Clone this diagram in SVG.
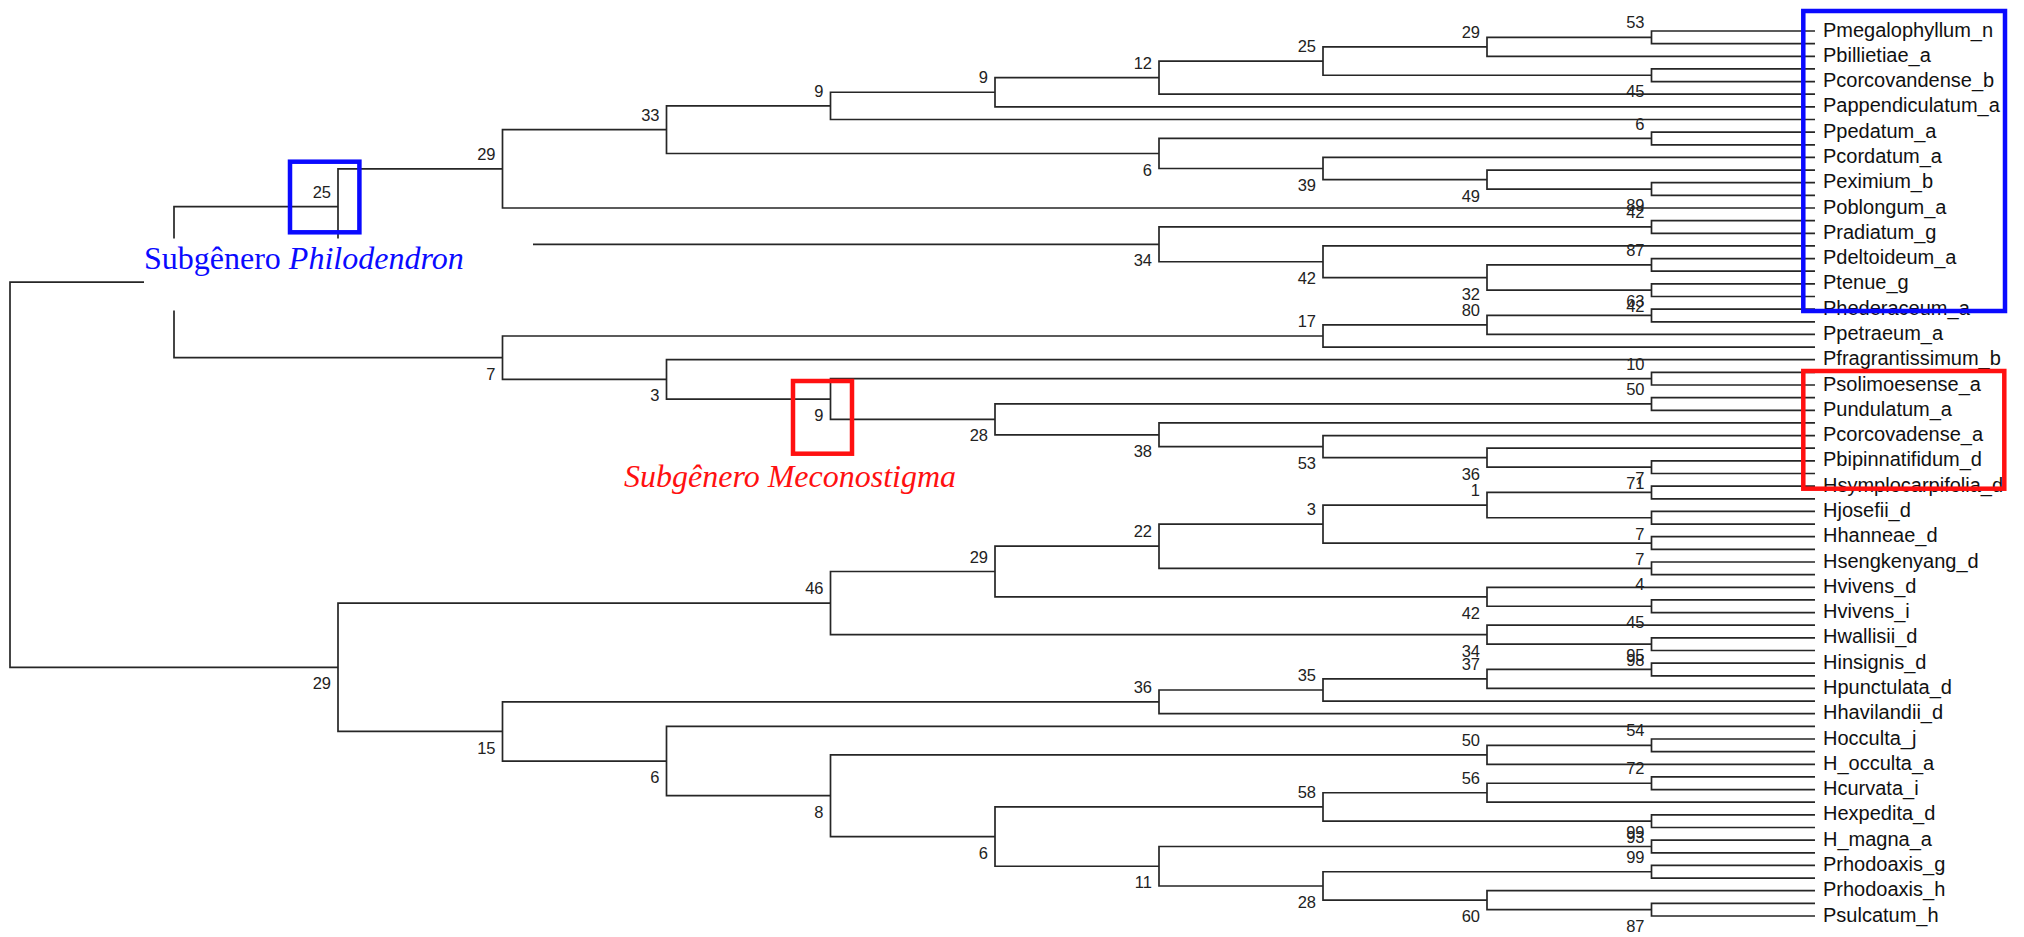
<svg xmlns="http://www.w3.org/2000/svg" width="2024" height="937" viewBox="0 0 2024 937">
  <style>
    .br { fill: none; stroke: #262626; stroke-width: 1.7; }
    .sv { font-family: "Liberation Sans", Arial, sans-serif; font-size: 16.5px; fill: #222; text-anchor: end; }
    .tx { font-family: "Liberation Sans", Arial, sans-serif; font-size: 20px; fill: #111; }
    .box-b { fill: none; stroke: #0a0aff; stroke-width: 4.5; }
    .box-r { fill: none; stroke: #ff1010; stroke-width: 4.5; }
    .sub { font-family: "Liberation Serif", "Times New Roman", serif; font-size: 32px; }
  </style>
  <rect width="2024" height="937" fill="#ffffff"/>

  <!-- branches: one bracket per internal node (child1 -> node level -> child2) -->
  <g id="connectors" class="br">
    <path id="e-A" d="M1815 31 H1651.5 V43.64 H1815"/>
    <path id="e-B" d="M1651.5 37.32 H1487 V56.29 H1815"/>
    <path id="e-C" d="M1815 68.93 H1651.5 V81.57 H1815"/>
    <path id="e-D" d="M1487 46.8 H1323 V75.25 H1651.5"/>
    <path id="e-E" d="M1323 61.03 H1159 V94.22 H1815"/>
    <path id="e-F" d="M1159 77.62 H995 V106.86 H1815"/>
    <path id="e-G" d="M995 92.24 H830.5 V119.5 H1815"/>
    <path id="e-J" d="M1815 132.14 H1651.5 V144.79 H1815"/>
    <path id="e-M" d="M1815 182.72 H1651.5 V195.36 H1815"/>
    <path id="e-L" d="M1815 170.07 H1487 V189.04 H1651.5"/>
    <path id="e-K" d="M1815 157.43 H1323 V179.55 H1487"/>
    <path id="e-I" d="M1651.5 138.47 H1159 V168.49 H1323"/>
    <path id="e-H" d="M830.5 105.87 H666.5 V153.48 H1159"/>
    <path id="e-O" d="M666.5 129.67 H502.5 V208 H1815"/>
    <path id="e-N" d="M1815 220.65 H1651.5 V233.29 H1815"/>
    <path id="e-W" d="M1815 258.57 H1651.5 V271.22 H1815"/>
    <path id="e-X" d="M1815 283.86 H1651.5 V296.5 H1815"/>
    <path id="e-V" d="M1651.5 264.9 H1487 V290.18 H1651.5"/>
    <path id="e-U" d="M1815 245.93 H1323 V277.54 H1487"/>
    <path id="e-Q" d="M1651.5 226.97 H1159 V261.73 H1323"/>
    <path id="e-P" d="M502.5 168.84 H338 V244.35 H1159"/>
    <path id="e-Y" d="M1815 309.15 H1651.5 V321.79 H1815"/>
    <path id="e-Z" d="M1651.5 315.47 H1487 V334.43 H1815"/>
    <path id="e-AA" d="M1487 324.95 H1323 V347.08 H1815"/>
    <path id="e-AD" d="M1815 372.36 H1651.5 V385 H1815"/>
    <path id="e-AF" d="M1815 397.65 H1651.5 V410.29 H1815"/>
    <path id="e-AJ" d="M1815 460.86 H1651.5 V473.51 H1815"/>
    <path id="e-AI" d="M1815 448.22 H1487 V467.18 H1651.5"/>
    <path id="e-AH" d="M1815 435.58 H1323 V457.7 H1487"/>
    <path id="e-AG" d="M1815 422.93 H1159 V446.64 H1323"/>
    <path id="e-AE" d="M1651.5 403.97 H995 V434.79 H1159"/>
    <path id="e-AC" d="M1651.5 378.68 H830.5 V419.38 H995"/>
    <path id="e-AB" d="M1815 359.72 H666.5 V399.03 H830.5"/>
    <path id="e-R" d="M1323 336.01 H502.5 V379.37 H666.5"/>
    <path id="e-S" d="M338 206.59 H174 V357.69 H502.5"/>
    <path id="e-AK" d="M1815 486.15 H1651.5 V498.79 H1815"/>
    <path id="e-AM" d="M1815 511.43 H1651.5 V524.08 H1815"/>
    <path id="e-AL" d="M1651.5 492.47 H1487 V517.76 H1651.5"/>
    <path id="e-AP" d="M1815 536.72 H1651.5 V549.36 H1815"/>
    <path id="e-AO" d="M1487 505.11 H1323 V543.04 H1651.5"/>
    <path id="e-AR" d="M1815 562.01 H1651.5 V574.65 H1815"/>
    <path id="e-AQ" d="M1323 524.08 H1159 V568.33 H1651.5"/>
    <path id="e-AT" d="M1815 599.94 H1651.5 V612.58 H1815"/>
    <path id="e-AS" d="M1815 587.29 H1487 V606.26 H1651.5"/>
    <path id="e-AU" d="M1159 546.2 H995 V596.78 H1487"/>
    <path id="e-AX" d="M1815 637.86 H1651.5 V650.51 H1815"/>
    <path id="e-AW" d="M1815 625.22 H1487 V644.19 H1651.5"/>
    <path id="e-AV" d="M995 571.49 H830.5 V634.7 H1487"/>
    <path id="e-AY" d="M1815 663.15 H1651.5 V675.79 H1815"/>
    <path id="e-AZ" d="M1651.5 669.47 H1487 V688.44 H1815"/>
    <path id="e-BA" d="M1487 678.95 H1323 V701.08 H1815"/>
    <path id="e-BB" d="M1323 690.02 H1159 V713.72 H1815"/>
    <path id="e-BG" d="M1815 739.01 H1651.5 V751.65 H1815"/>
    <path id="e-BF" d="M1651.5 745.33 H1487 V764.29 H1815"/>
    <path id="e-BK" d="M1815 776.94 H1651.5 V789.58 H1815"/>
    <path id="e-BJ" d="M1651.5 783.26 H1487 V802.22 H1815"/>
    <path id="e-BL" d="M1815 814.87 H1651.5 V827.51 H1815"/>
    <path id="e-BI" d="M1487 792.74 H1323 V821.19 H1651.5"/>
    <path id="e-BM" d="M1815 840.15 H1651.5 V852.8 H1815"/>
    <path id="e-BP" d="M1815 865.44 H1651.5 V878.08 H1815"/>
    <path id="e-BR" d="M1815 903.37 H1651.5 V916.01 H1815"/>
    <path id="e-BQ" d="M1815 890.72 H1487 V909.69 H1651.5"/>
    <path id="e-BO" d="M1651.5 871.76 H1323 V900.21 H1487"/>
    <path id="e-BN" d="M1651.5 846.48 H1159 V885.99 H1323"/>
    <path id="e-BH" d="M1323 806.97 H995 V866.23 H1159"/>
    <path id="e-BE" d="M1487 754.81 H830.5 V836.6 H995"/>
    <path id="e-BD" d="M1815 726.37 H666.5 V795.71 H830.5"/>
    <path id="e-BC" d="M1159 701.87 H502.5 V761.04 H666.5"/>
    <path id="e-T" d="M830.5 603.1 H338 V731.45 H502.5"/>
    <path id="e-root" d="M174 282.14 H10 V667.28 H338"/>
  </g>

  <!-- support values at internal nodes -->
  <g id="support" class="sv">
    <g id="n-A"><text x="1644.5" y="28.3">53</text></g>
    <g id="n-B"><text x="1480" y="37.8">29</text></g>
    <g id="n-C"><text x="1644.5" y="97.3">45</text></g>
    <g id="n-D"><text x="1316" y="52">25</text></g>
    <g id="n-E"><text x="1152" y="68.6">12</text></g>
    <g id="n-F"><text x="988" y="83.2">9</text></g>
    <g id="n-G"><text x="823.5" y="96.9">9</text></g>
    <g id="n-H"><text x="659.5" y="120.7">33</text></g>
    <g id="n-I"><text x="1152" y="175.5">6</text></g>
    <g id="n-J"><text x="1644.5" y="129.5">6</text></g>
    <g id="n-K"><text x="1316" y="190.5">39</text></g>
    <g id="n-L"><text x="1480" y="201.6">49</text></g>
    <g id="n-M"><text x="1644.5" y="211">89</text></g>
    <g id="n-O"><text x="495.5" y="159.8">29</text></g>
    <g id="n-N"><text x="1644.5" y="218">42</text></g>
    <g id="n-Q"><text x="1152" y="266.4">34</text></g>
    <g id="n-U"><text x="1316" y="283.7">42</text></g>
    <g id="n-V"><text x="1480" y="299.5">32</text></g>
    <g id="n-W"><text x="1644.5" y="255.9">87</text></g>
    <g id="n-X"><text x="1644.5" y="312.2">42</text></g>
    <g id="n-P"><text x="331" y="197.6">25</text></g>
    <g id="n-Y"><text x="1644.5" y="306.5">63</text></g>
    <g id="n-Z"><text x="1480" y="316">80</text></g>
    <g id="n-AA"><text x="1316" y="327">17</text></g>
    <g id="n-R"><text x="495.5" y="379.7">7</text></g>
    <g id="n-AB"><text x="659.5" y="401.4">3</text></g>
    <g id="n-AC"><text x="823.5" y="421">9</text></g>
    <g id="n-AD"><text x="1644.5" y="369.7">10</text></g>
    <g id="n-AE"><text x="988" y="441.4">28</text></g>
    <g id="n-AF"><text x="1644.5" y="395">50</text></g>
    <g id="n-AG"><text x="1152" y="456.8">38</text></g>
    <g id="n-AH"><text x="1316" y="468.6">53</text></g>
    <g id="n-AI"><text x="1480" y="479.7">36</text></g>
    <g id="n-AJ"><text x="1644.5" y="489.2">71</text></g>
    <g id="n-T"><text x="331" y="689.3">29</text></g>
    <g id="n-AV"><text x="823.5" y="594.1">46</text></g>
    <g id="n-AU"><text x="988" y="562.5">29</text></g>
    <g id="n-AQ"><text x="1152" y="537.2">22</text></g>
    <g id="n-AO"><text x="1316" y="515.1">3</text></g>
    <g id="n-AL"><text x="1480" y="496.1">1</text></g>
    <g id="n-AK"><text x="1644.5" y="483.5">7</text></g>
    <g id="n-AM"><text x="1644.5" y="539.8">7</text></g>
    <g id="n-AP"><text x="1644.5" y="565">7</text></g>
    <g id="n-AR"><text x="1644.5" y="590.3">4</text></g>
    <g id="n-AS"><text x="1480" y="618.8">42</text></g>
    <g id="n-AT"><text x="1644.5" y="628.3">45</text></g>
    <g id="n-AW"><text x="1480" y="656.7">34</text></g>
    <g id="n-AX"><text x="1644.5" y="666.2">98</text></g>
    <g id="n-BC"><text x="495.5" y="753.5">15</text></g>
    <g id="n-BB"><text x="1152" y="692.9">36</text></g>
    <g id="n-BA"><text x="1316" y="681">35</text></g>
    <g id="n-AZ"><text x="1480" y="670">37</text></g>
    <g id="n-AY"><text x="1644.5" y="660.5">95</text></g>
    <g id="n-BD"><text x="659.5" y="783">6</text></g>
    <g id="n-BE"><text x="823.5" y="817.7">8</text></g>
    <g id="n-BF"><text x="1480" y="745.8">50</text></g>
    <g id="n-BG"><text x="1644.5" y="736.3">54</text></g>
    <g id="n-BH"><text x="988" y="858.6">6</text></g>
    <g id="n-BI"><text x="1316" y="798">58</text></g>
    <g id="n-BJ"><text x="1480" y="783.7">56</text></g>
    <g id="n-BK"><text x="1644.5" y="774.3">72</text></g>
    <g id="n-BL"><text x="1644.5" y="843.2">93</text></g>
    <g id="n-BN"><text x="1152" y="888.2">11</text></g>
    <g id="n-BM"><text x="1644.5" y="837.5">99</text></g>
    <g id="n-BO"><text x="1316" y="908">28</text></g>
    <g id="n-BP"><text x="1644.5" y="862.8">99</text></g>
    <g id="n-BQ"><text x="1480" y="922.2">60</text></g>
    <g id="n-BR"><text x="1644.5" y="931.7">87</text></g>
  </g>

  <!-- taxon labels (every other tip carries a name) -->
  <g id="taxa" class="tx">
    <g id="t-Pmegalophyllum_n"><text x="1823" y="36.5">Pmegalophyllum_n</text></g>
    <g id="t-Pbillietiae_a"><text x="1823" y="61.8">Pbillietiae_a</text></g>
    <g id="t-Pcorcovandense_b"><text x="1823" y="87.1">Pcorcovandense_b</text></g>
    <g id="t-Pappendiculatum_a"><text x="1823" y="112.4">Pappendiculatum_a</text></g>
    <g id="t-Ppedatum_a"><text x="1823" y="137.6">Ppedatum_a</text></g>
    <g id="t-Pcordatum_a"><text x="1823" y="162.9">Pcordatum_a</text></g>
    <g id="t-Peximium_b"><text x="1823" y="188.2">Peximium_b</text></g>
    <g id="t-Poblongum_a"><text x="1823" y="213.5">Poblongum_a</text></g>
    <g id="t-Pradiatum_g"><text x="1823" y="238.8">Pradiatum_g</text></g>
    <g id="t-Pdeltoideum_a"><text x="1823" y="264.1">Pdeltoideum_a</text></g>
    <g id="t-Ptenue_g"><text x="1823" y="289.4">Ptenue_g</text></g>
    <g id="t-Phederaceum_a"><text x="1823" y="314.6">Phederaceum_a</text></g>
    <g id="t-Ppetraeum_a"><text x="1823" y="339.9">Ppetraeum_a</text></g>
    <g id="t-Pfragrantissimum_b"><text x="1823" y="365.2">Pfragrantissimum_b</text></g>
    <g id="t-Psolimoesense_a"><text x="1823" y="390.5">Psolimoesense_a</text></g>
    <g id="t-Pundulatum_a"><text x="1823" y="415.8">Pundulatum_a</text></g>
    <g id="t-Pcorcovadense_a"><text x="1823" y="441.1">Pcorcovadense_a</text></g>
    <g id="t-Pbipinnatifidum_d"><text x="1823" y="466.4">Pbipinnatifidum_d</text></g>
    <g id="t-Hsymplocarpifolia_d"><text x="1823" y="491.6">Hsymplocarpifolia_d</text></g>
    <g id="t-Hjosefii_d"><text x="1823" y="516.9">Hjosefii_d</text></g>
    <g id="t-Hhanneae_d"><text x="1823" y="542.2">Hhanneae_d</text></g>
    <g id="t-Hsengkenyang_d"><text x="1823" y="567.5">Hsengkenyang_d</text></g>
    <g id="t-Hvivens_d"><text x="1823" y="592.8">Hvivens_d</text></g>
    <g id="t-Hvivens_i"><text x="1823" y="618.1">Hvivens_i</text></g>
    <g id="t-Hwallisii_d"><text x="1823" y="643.4">Hwallisii_d</text></g>
    <g id="t-Hinsignis_d"><text x="1823" y="668.6">Hinsignis_d</text></g>
    <g id="t-Hpunctulata_d"><text x="1823" y="693.9">Hpunctulata_d</text></g>
    <g id="t-Hhavilandii_d"><text x="1823" y="719.2">Hhavilandii_d</text></g>
    <g id="t-Hocculta_j"><text x="1823" y="744.5">Hocculta_j</text></g>
    <g id="t-H_occulta_a"><text x="1823" y="769.8">H_occulta_a</text></g>
    <g id="t-Hcurvata_i"><text x="1823" y="795.1">Hcurvata_i</text></g>
    <g id="t-Hexpedita_d"><text x="1823" y="820.4">Hexpedita_d</text></g>
    <g id="t-H_magna_a"><text x="1823" y="845.7">H_magna_a</text></g>
    <g id="t-Prhodoaxis_g"><text x="1823" y="870.9">Prhodoaxis_g</text></g>
    <g id="t-Prhodoaxis_h"><text x="1823" y="896.2">Prhodoaxis_h</text></g>
    <g id="t-Psulcatum_h"><text x="1823" y="921.5">Psulcatum_h</text></g>
  </g>

  <!-- subgenus annotations -->
  <g id="label-philodendron">
    <rect x="144" y="238.5" width="389" height="72" fill="#ffffff"/>
    <text class="sub" x="144" y="269" fill="#0a0aff">Subgênero <tspan font-style="italic">Philodendron</tspan></text>
  </g>
  <g id="label-meconostigma">
    <text class="sub" x="624" y="486.5" fill="#ff1010" font-style="italic">Subgênero Meconostigma</text>
  </g>

  <g id="highlights">
    <rect id="box-philo-node" class="box-b" x="290" y="161.7" width="69.4" height="70.6"/>
    <rect id="box-philo-taxa" class="box-b" x="1803.3" y="11" width="201.7" height="300"/>
    <rect id="box-mecono-node" class="box-r" x="793" y="381" width="59" height="72.7"/>
    <rect id="box-mecono-taxa" class="box-r" x="1803.3" y="371" width="201" height="117.7"/>
  </g>
</svg>
